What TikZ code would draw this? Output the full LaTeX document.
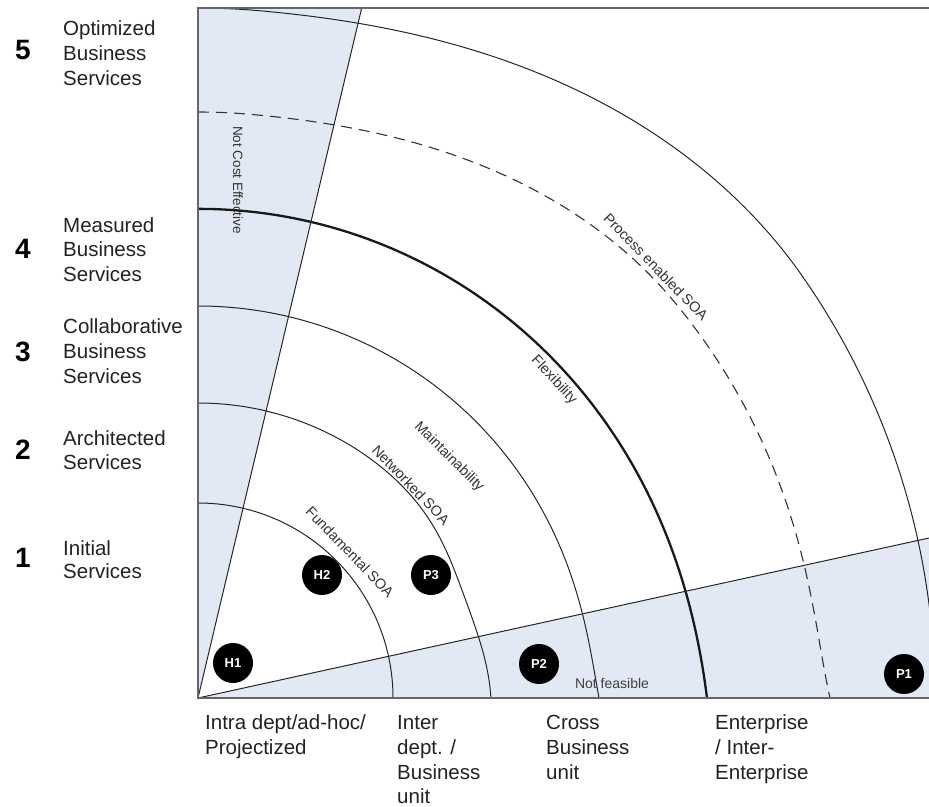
\documentclass[tikz,border=0pt]{standalone}
\usepackage{fontspec}
\setmainfont{Liberation Sans}
\definecolor{shadeblue}{RGB}{226,232,244}
\definecolor{inkgray}{RGB}{34,34,34}
\begin{document}
\begin{tikzpicture}[x=1pt,y=-1pt,
  declare function={
    ftwo(\t)=295-10*exp(-((\t-20)/16)*((\t-20)/16));
    fthree(\t)=392+9*exp(-\t/7);
    fthick(\t)=489+20*exp(-\t/18);
    sdash(\t)=max(0,min(1,(\t-40)/45));
    fdash(\t)=619.5-33.5*(3*sdash(\t)*sdash(\t)-2*sdash(\t)*sdash(\t)*sdash(\t))+12.5*exp(-\t/5);
    souter(\t)=max(0,min(1,(\t-35)/50));
    fouter(\t)=737-47*(3*souter(\t)*souter(\t)-2*souter(\t)*souter(\t)*souter(\t));
  },
  arcline/.style={line width=1pt, black!85},
  thickarc/.style={line width=2.3pt, black!90},
  dasharc/.style={line width=1.1pt, black!80, dash pattern=on 11pt off 7pt},
  frameline/.style={line width=1.8pt, black!60},
  divline/.style={line width=1pt, black!85},
  lvl/.style={anchor=base west, font=\fontsize{20.5}{24}\selectfont, text=inkgray, inner sep=0pt},
  num/.style={font=\fontsize{28}{30}\selectfont\bfseries, text=black, inner sep=0pt},
  arclabel/.style={font=\fontsize{14.5}{16}\selectfont, text=black!80, inner sep=0pt},
  dot/.style={circle, fill=black, minimum size=40pt, inner sep=0pt, text=white, font=\fontsize{13}{15}\selectfont\bfseries}]
\useasboundingbox (0,0) rectangle (929,806);

\coordinate (O) at (198,698);
\coordinate (TL) at (198,8);
\coordinate (TS) at (361.7,8);
\coordinate (TR) at (929,8);
\coordinate (BR) at (929,698);
\coordinate (RS) at (929,538);

% shaded regions
\fill[shadeblue] (O) -- (TL) -- (TS) -- cycle;
\fill[shadeblue] (O) -- (RS) -- (BR) -- cycle;

% arcs
\begin{scope}
\clip (198,8) rectangle (929,698);
\draw[arcline] (O) circle[radius=195pt];
\draw[arcline] plot[domain=0:90, samples=91, smooth, variable=\t] ({198+ftwo(\t)*cos(\t)}, {698-ftwo(\t)*sin(\t)});
\draw[arcline] plot[domain=0:90, samples=91, smooth, variable=\t] ({198+fthree(\t)*cos(\t)}, {698-fthree(\t)*sin(\t)});
\draw[thickarc] plot[domain=0:90, samples=91, smooth, variable=\t] ({198+fthick(\t)*cos(\t)}, {698-fthick(\t)*sin(\t)});
\draw[dasharc] plot[domain=90:0, samples=91, smooth, variable=\t] ({198+fdash(\t)*cos(\t)}, {698-fdash(\t)*sin(\t)});
\draw[arcline] plot[domain=0:90, samples=91, smooth, variable=\t] ({198+fouter(\t)*cos(\t)}, {698-fouter(\t)*sin(\t)});
\end{scope}

% dividing lines
\draw[divline] (O) -- (TS);
\draw[divline] (O) -- (RS);

% frame
\draw[frameline] (TR) -- (TL) -- (O) -- (BR);

% rotated labels
\node[arclabel, rotate=-90, font=\fontsize{13.5}{15}\selectfont] (nce) at (238,180) {Not Cost Effective};
\node[arclabel, rotate=-46] (pes) at (656,267) {Process enabled SOA};
\node[arclabel, rotate=-47] (flex) at (554,380) {Flexibility};
\node[arclabel, rotate=-45] (maint) at (449,457) {Maintainability};
\node[arclabel, rotate=-46] (net) at (411,485) {Networked SOA};
\node[arclabel, rotate=-46] (fund) at (350,552) {Fundamental SOA};
\node[arclabel, font=\fontsize{14}{16}\selectfont, text=black!75] (nf) at (612,683) {Not feasible};

% dots
\node[dot] (H1) at (233,663) {H1};
\node[dot] (H2) at (322,575) {H2};
\node[dot] (P3) at (431,575) {P3};
\node[dot] (P2) at (539,664) {P2};
\node[dot] (P1) at (904,674) {P1};

% left level labels
\node[num] (n5) at (23,50) {5};
\node[lvl] (l5a) at (63,35.7) {Optimized};
\node[lvl] (l5b) at (63,60.7) {Business};
\node[lvl] (l5c) at (63,85) {Services};

\node[num] (n4) at (23,249) {4};
\node[lvl] (l4a) at (63,232.3) {Measured};
\node[lvl] (l4b) at (63,256.7) {Business};
\node[lvl] (l4c) at (63,281.7) {Services};

\node[num] (n3) at (23,352) {3};
\node[lvl] (l3a) at (63,333.3) {Collaborative};
\node[lvl] (l3b) at (63,358.3) {Business};
\node[lvl] (l3c) at (63,383.3) {Services};

\node[num] (n2) at (23,450) {2};
\node[lvl] (l2a) at (63,445) {Architected};
\node[lvl] (l2b) at (63,469.3) {Services};

\node[num] (n1) at (23,558) {1};
\node[lvl] (l1a) at (63,555) {Initial};
\node[lvl] (l1b) at (63,578.3) {Services};

% bottom labels
\node[lvl] (b1a) at (205,729) {Intra dept/ad-hoc/};
\node[lvl] (b1b) at (205,754) {Projectized};

\node[lvl] (b2a) at (397,729) {Inter};
\node[lvl] (b2b) at (397,754) {dept. /};
\node[lvl] (b2c) at (397,779) {Business};
\node[lvl] (b2d) at (397,803) {unit};

\node[lvl] (b3a) at (546,729) {Cross};
\node[lvl] (b3b) at (546,754) {Business};
\node[lvl] (b3c) at (546,779) {unit};

\node[lvl] (b4a) at (715,729) {Enterprise};
\node[lvl] (b4b) at (715,754) {/ Inter-};
\node[lvl] (b4c) at (715,779) {Enterprise};
\end{tikzpicture}
\end{document}
